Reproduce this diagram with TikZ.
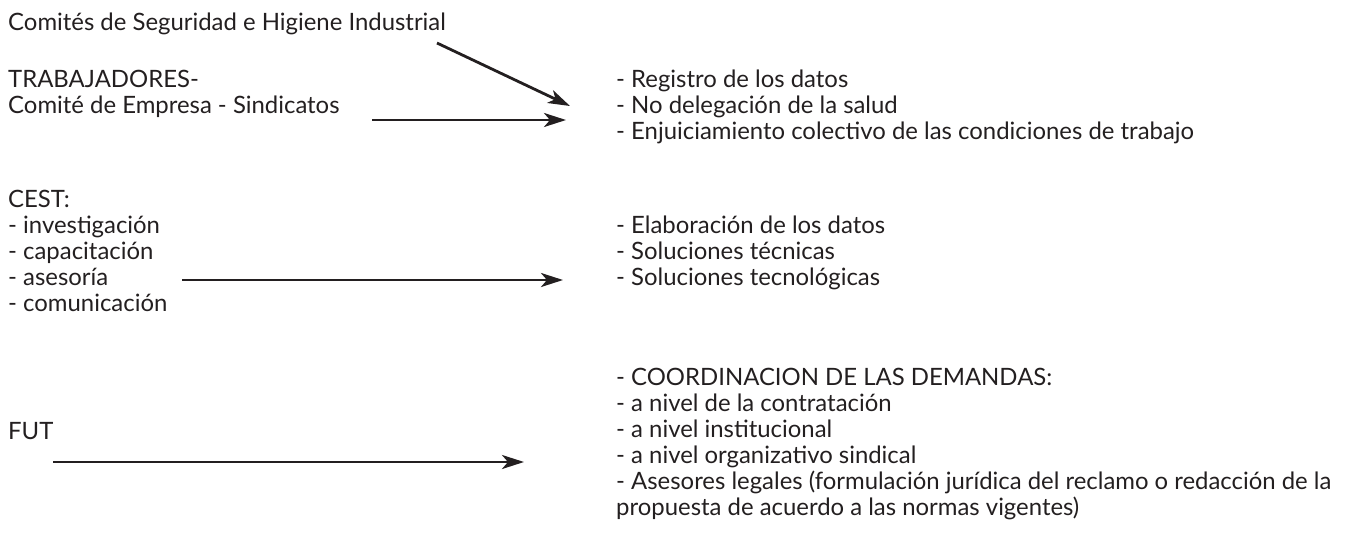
\documentclass[tikz,border=0pt]{standalone}
\usepackage{fontspec}
\setmainfont{Lato}
\usepackage{xcolor}
\usetikzlibrary{arrows.meta, positioning}
\definecolor{tinta}{HTML}{231F20}

\begin{document}
\begin{tikzpicture}[x=1pt, y=-1pt, >={Stealth[length=22pt,width=14pt,inset=6pt]},
    txt/.style={anchor=north west, inner sep=0pt, align=left, text=tinta,
        font=\fontsize{23.9}{26}\selectfont, execute at begin node=\strut},
    flecha/.style={->, line width=2.8pt, tinta}]
    \useasboundingbox (0,0) rectangle (1346,533);

    % Actores (baseline = top + 18.2)
    \node[txt] (comites) at (8,11.8) {Comités de Seguridad e Higiene Industrial};
    \node[txt] (trab) at (8,69.8) {TRABAJADORES-\\Comité de Empresa - Sindicatos};
    \node[txt] (cest) at (8,189.8) {CEST:\\- investigación\\- capacitación\\- asesoría\\- comunicación};
    \node[txt] (fut) at (8,420.8) {FUT};

    % Resultados
    \node[txt] (datos) at (616,69.8) {- Registro de los datos\\- No delegación de la salud\\- Enjuiciamiento colectivo de las condiciones de trabajo};
    \node[txt] (tecnica) at (616,215.8) {- Elaboración de los datos\\- Soluciones técnicas\\- Soluciones tecnológicas};
    \node[txt] (demandas) at (616,367.8) {- COORDINACION DE LAS DEMANDAS:\\- a nivel de la contratación\\- a nivel institucional\\- a nivel organizativo sindical\\- Asesores legales (formulación jurídica del reclamo o redacción de la\\propuesta de acuerdo a las normas vigentes)};

    % Flechas
    \coordinate (c1) at (437,43);
    \coordinate (c2) at (570,106);
    \coordinate (t1) at (372,120);
    \coordinate (t2) at (566,120);
    \coordinate (e1) at (182,280);
    \coordinate (e2) at (563,280);
    \coordinate (f1) at (53,462);
    \coordinate (f2) at (524,462);
    \draw[flecha] (c1) -- (c2);
    \draw[flecha] (t1) -- (t2);
    \draw[flecha] (e1) -- (e2);
    \draw[flecha] (f1) -- (f2);
\end{tikzpicture}
\end{document}
